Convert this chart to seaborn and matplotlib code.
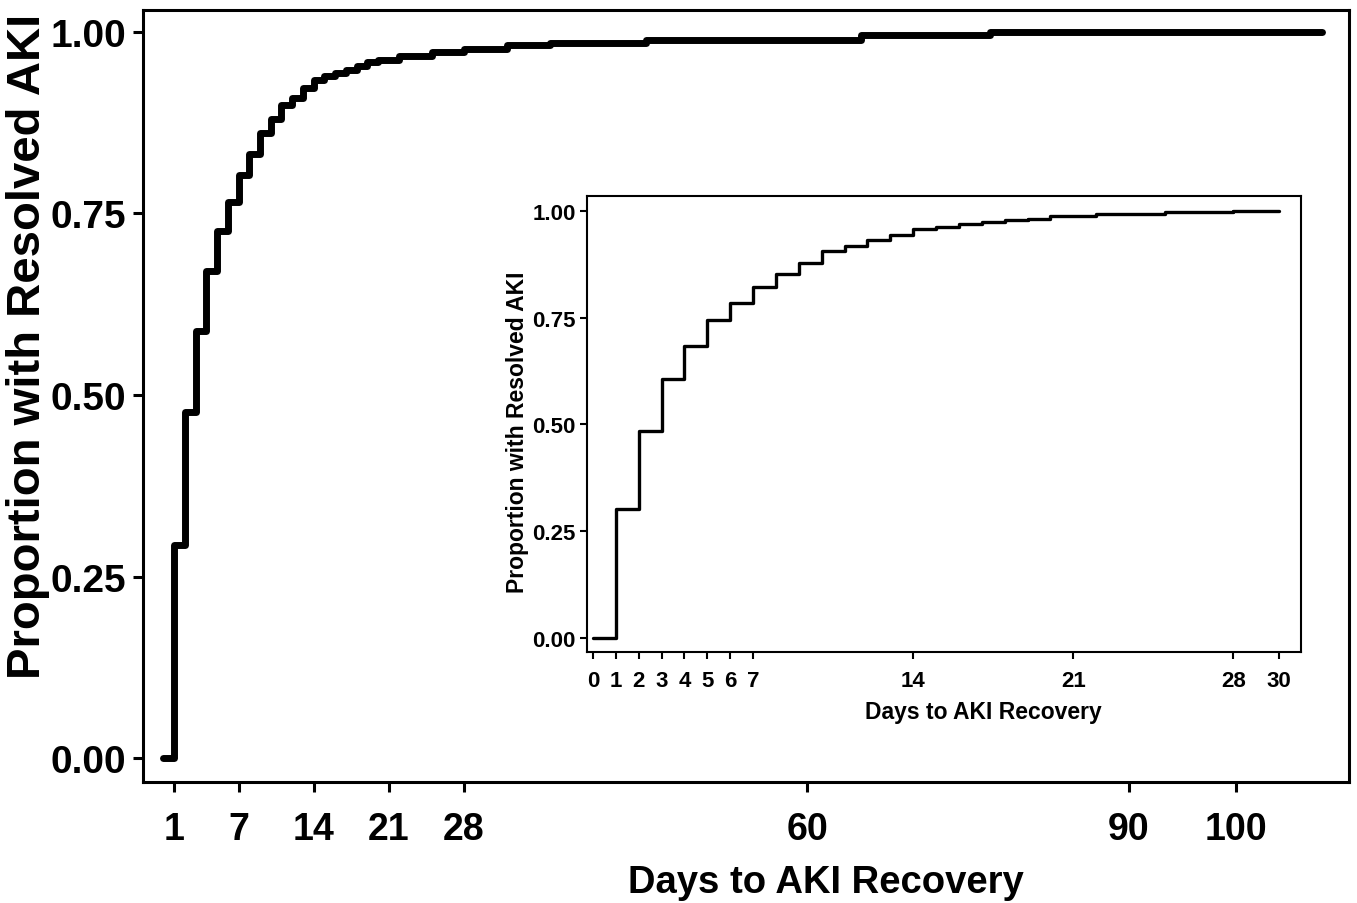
import numpy as np
import pandas as pd
import matplotlib
matplotlib.use("Agg")
import matplotlib.pyplot as plt
import seaborn as sns

# cumulative proportion with resolved AKI, main panel (days 0-108)
days_main = [0, 1, 2, 3, 4, 5, 6, 7, 8, 9, 10, 11, 12, 13, 14, 15, 16, 17, 18, 19,
             20, 22, 25, 28, 32, 36, 45, 65, 77, 108]
prop_main = [0.0, 0.293, 0.477, 0.588, 0.670, 0.726, 0.765, 0.803, 0.832, 0.861,
             0.880, 0.899, 0.909, 0.923, 0.934, 0.939, 0.943, 0.948, 0.953, 0.958,
             0.961, 0.967, 0.972, 0.976, 0.982, 0.985, 0.989, 0.996, 1.0, 1.0]
main_xticks = [1, 7, 14, 21, 28, 60, 90, 100]

# inset (first 30 days)
days_inset = [0, 1, 2, 3, 4, 5, 6, 7, 8, 9, 10, 11, 12, 13, 14, 15, 16, 17, 18, 19,
              20, 22, 25, 28, 30]
prop_inset = [0.0, 0.302, 0.484, 0.606, 0.683, 0.745, 0.784, 0.822, 0.852, 0.879,
              0.905, 0.918, 0.931, 0.943, 0.957, 0.963, 0.969, 0.974, 0.978, 0.982,
              0.988, 0.993, 0.997, 1.0, 1.0]
inset_xticks = [0, 1, 2, 3, 4, 5, 6, 7, 14, 21, 28, 30]

yticks = [0.0, 0.25, 0.5, 0.75, 1.0]

sns.set_style("ticks")
plt.rcParams['font.family'] = ['Liberation Sans', 'DejaVu Sans']
plt.rcParams['text.color'] = 'black'
plt.rcParams['axes.labelcolor'] = 'black'
plt.rcParams['xtick.color'] = 'black'
plt.rcParams['ytick.color'] = 'black'

df_main = pd.DataFrame({"day": days_main, "prop": prop_main})
df_inset = pd.DataFrame({"day": days_inset, "prop": prop_inset})

fig = plt.figure(figsize=(13.57, 9.04), dpi=100)
ax = fig.add_axes([0.1054, 0.1338, 0.8887, 0.854])

sns.lineplot(data=df_main, x="day", y="prop", drawstyle="steps-post",
             color="black", linewidth=5, ax=ax, sort=False)
ax.set_xlim(-1.9, 110.5)
ax.set_ylim(-0.033, 1.030)
ax.set_xticks(main_xticks)
ax.set_yticks(yticks)
ax.set_yticklabels(["{:.2f}".format(v) for v in yticks], fontsize=28, fontweight="bold")
ax.set_xticklabels([str(v) for v in main_xticks], fontsize=27, fontweight="bold")
ax.tick_params(axis="both", length=7, width=2.2, color="black")
ax.tick_params(axis="x", pad=14)
ax.tick_params(axis="y", pad=5)
for s in ax.spines.values():
    s.set_linewidth(2.2)
    s.set_color("black")
ax.set_xlabel("Days to AKI Recovery", fontsize=27.5, fontweight="bold")
ax.set_ylabel("Proportion with Resolved AKI", fontsize=34, fontweight="bold")
ax.xaxis.set_label_coords(0.566, -0.106)
ax.yaxis.set_label_coords(-0.077, 0.566)

# inset
axin = fig.add_axes([0.4326, 0.2777, 0.5262, 0.5044])
sns.lineplot(data=df_inset, x="day", y="prop", drawstyle="steps-post",
             color="black", linewidth=2.4, ax=axin, sort=False)
axin.set_xlim(-0.26, 30.96)
axin.set_ylim(-0.033, 1.035)
axin.set_xticks(inset_xticks)
axin.set_yticks(yticks)
axin.set_xticklabels([str(v) for v in inset_xticks], fontsize=16, fontweight="bold")
axin.set_yticklabels(["{:.2f}".format(v) for v in yticks], fontsize=16, fontweight="bold")
axin.tick_params(axis="both", length=5, width=1.5, color="black")
axin.tick_params(axis="x", pad=8)
axin.tick_params(axis="y", pad=3)
for s in axin.spines.values():
    s.set_linewidth(1.5)
    s.set_color("black")
axin.set_xlabel("Days to AKI Recovery", fontsize=16.5, fontweight="bold")
axin.set_ylabel("Proportion with Resolved AKI", fontsize=16.5, fontweight="bold")
axin.xaxis.set_label_coords(0.555, -0.105)
axin.yaxis.set_label_coords(-0.081, 0.485)

fig.savefig("out.png", dpi=100, facecolor="white")
